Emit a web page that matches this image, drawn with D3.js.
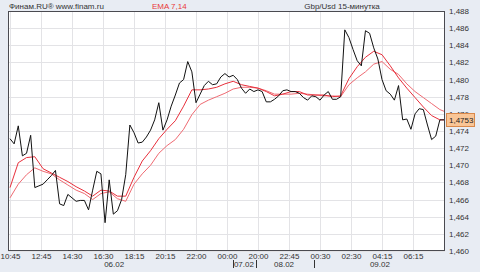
<!DOCTYPE html>
<html>
<head>
<meta charset="utf-8">
<script src="https://cdn.jsdelivr.net/npm/d3@7"></script>
<style>
  html, body { margin: 0; padding: 0; background: #e8ecf3; }
  text { font-family: "Liberation Sans", Arial, sans-serif; }
</style>
</head>
<body>
<div id="chart"></div>
<script>
// 15 min closes, index = bar number
var closes = [
  1.4731, 1.4725, 1.4746, 1.4711, 1.4714, 1.4735, 1.4674, 1.4676, 1.4678, 1.4683,
  1.4688, 1.4694, 1.4655, 1.4653, 1.4666, 1.4662, 1.4658, 1.4659, 1.4659, 1.4648,
  1.4671, 1.4693, 1.4690, 1.4633, 1.4683, 1.4643, 1.4647, 1.4660, 1.4689, 1.4747,
  1.4738, 1.4726, 1.4727, 1.4733, 1.4741, 1.4753, 1.4773, 1.4741, 1.4753, 1.4769,
  1.4782, 1.4796, 1.4800, 1.4821, 1.4809, 1.4773, 1.4783, 1.4793, 1.4798, 1.4794,
  1.4795, 1.4803, 1.4807, 1.4803, 1.4805, 1.4800, 1.4790, 1.4784, 1.4789, 1.4786,
  1.4788, 1.4786, 1.4774, 1.4774, 1.4777, 1.4781, 1.4787, 1.4788, 1.4786, 1.4786,
  1.4784, 1.4779, 1.4776, 1.4781, 1.4780, 1.4776, 1.4782, 1.4786, 1.4777, 1.4777,
  1.4780, 1.4858, 1.4849, 1.4835, 1.4822, 1.4816, 1.4857, 1.4854, 1.4837, 1.4824,
  1.4800, 1.4787, 1.4783, 1.4776, 1.4793, 1.4753, 1.4754, 1.4742, 1.4760, 1.4766,
  1.4765, 1.4747, 1.4730, 1.4734, 1.4753, 1.4753
];

// ema values read every 2nd bar (+ last bar)
var emaIdx = d3.range(0, 105, 2).concat([105]);
var ema7 = [
  1.4674, 1.4703, 1.4709, 1.4710, 1.4696, 1.4691, 1.4686, 1.4681, 1.4675, 1.4670,
  1.4664, 1.4671, 1.4670, 1.4664, 1.4664, 1.4686, 1.4705, 1.4717, 1.4731, 1.4742,
  1.4752, 1.4769, 1.4788, 1.4788, 1.4789, 1.4791, 1.4795, 1.4798, 1.4794, 1.4792,
  1.4790, 1.4786, 1.4781, 1.4783, 1.4786, 1.4786, 1.4782, 1.4782, 1.4782, 1.4780,
  1.4781, 1.4801, 1.4815, 1.4826, 1.4833, 1.4829, 1.4816, 1.4802, 1.4790, 1.4779,
  1.4768, 1.4758, 1.4753, 1.4753
];
var ema14 = [
  1.4662, 1.4678, 1.4689, 1.4697, 1.4693, 1.4690, 1.4683, 1.4677, 1.4671, 1.4667,
  1.4660, 1.4667, 1.4669, 1.4661, 1.4658, 1.4678, 1.4690, 1.4700, 1.4714, 1.4723,
  1.4730, 1.4742, 1.4759, 1.4771, 1.4776, 1.4780, 1.4784, 1.4789, 1.4791, 1.4791,
  1.4790, 1.4787, 1.4783, 1.4783, 1.4783, 1.4784, 1.4783, 1.4782, 1.4781, 1.4781,
  1.4780, 1.4794, 1.4802, 1.4809, 1.4818, 1.4821, 1.4812, 1.4806, 1.4795, 1.4786,
  1.4779, 1.4772, 1.4765, 1.4763
];

var timeLabels = ["10:45", "12:45", "14:30", "16:30", "18:15", "20:15", "22:00",
                  "00:00", "20:00", "22:45", "00:30", "02:30", "04:15", "06:15"];
var timeIdx = [0, 7.5, 15, 22.5, 30, 37.5, 45, 52.5, 60, 67.5, 75, 82.5, 90, 97.5];
var dayLabels = ["06.02", "07.02", "08.02", "09.02"];
var dayIdx = [25.2, 56.6, 66.3, 89.5];
var daySplitIdx = [54, 59.5, 73.6];
var yTicks = [1.460, 1.462, 1.464, 1.466, 1.468, 1.470, 1.472, 1.474,
              1.476, 1.478, 1.480, 1.482, 1.484, 1.486, 1.488];

//set dimensions
var width = 480, height = 272;
var plotL = 8, plotR = 445, plotT = 11, plotB = 251;

var x = d3.scaleLinear().domain([0, 105]).range([10, 444]);
var y = d3.scaleLinear().domain([1.460, 1.488]).range([plotB, plotT]);
var fmt = function(d) { return d.toFixed(3).replace(".", ","); };

var svg = d3.select("#chart").append("svg")
    .attr("width", width)
    .attr("height", height);

svg.append("rect")
    .attr("width", width).attr("height", height)
    .attr("fill", "#e8ecf3");

svg.append("rect")
    .attr("x", plotL).attr("y", plotT)
    .attr("width", plotR - plotL).attr("height", plotB - plotT)
    .attr("fill", "#fff");

// grid
svg.append("g").selectAll("line")
    .data(yTicks)
    .enter().append("line")
    .attr("x1", plotL).attr("x2", plotR)
    .attr("y1", function(d) { return Math.round(y(d)) + 0.5; })
    .attr("y2", function(d) { return Math.round(y(d)) + 0.5; })
    .attr("stroke", "#e3e3e6");

svg.append("g").selectAll("line")
    .data(timeIdx)
    .enter().append("line")
    .attr("x1", function(d) { return Math.round(x(d)) + 0.5; })
    .attr("x2", function(d) { return Math.round(x(d)) + 0.5; })
    .attr("y1", plotT).attr("y2", plotB)
    .attr("stroke", "#e3e3e6");

svg.append("clipPath").attr("id", "clip")
  .append("rect")
    .attr("x", plotL).attr("y", plotT)
    .attr("width", plotR - plotL).attr("height", plotB - plotT);

var lines = svg.append("g").attr("clip-path", "url(#clip)");

var emaLine = d3.line()
    .x(function(d, i) { return x(emaIdx[i]); })
    .y(function(d) { return y(d); });

lines.append("path")
    .attr("d", emaLine(ema14))
    .attr("fill", "none")
    .attr("stroke", "#ef6a72")
    .attr("stroke-width", 1);

lines.append("path")
    .attr("d", emaLine(ema7))
    .attr("fill", "none")
    .attr("stroke", "#e8303c")
    .attr("stroke-width", 1);

var closeLine = d3.line()
    .x(function(d, i) { return x(i); })
    .y(function(d) { return y(d); });

lines.append("path")
    .attr("d", closeLine(closes))
    .attr("fill", "none")
    .attr("stroke", "#111")
    .attr("stroke-width", 1);

// frame
svg.append("rect")
    .attr("x", plotL + 0.5).attr("y", plotT + 0.5)
    .attr("width", plotR - plotL - 1).attr("height", plotB - plotT - 1)
    .attr("fill", "none")
    .attr("stroke", "#4a4a50");

// y axis on the right
var yAxis = svg.append("g")
    .attr("transform", "translate(" + plotR + ",0)")
    .call(d3.axisRight(y).tickValues(yTicks).tickSize(0).tickPadding(4).tickFormat(fmt));
yAxis.select(".domain").remove();
yAxis.selectAll("text")
    .attr("fill", "#333")
    .style("font-size", "8px")
    .style("font-family", "'Liberation Sans', Arial, sans-serif");

// x axis
var xAxis = svg.append("g")
    .attr("transform", "translate(0," + plotB + ")")
    .call(d3.axisBottom(x).tickValues(timeIdx).tickSize(0).tickPadding(2)
      .tickFormat(function(d, i) { return timeLabels[i]; }));
xAxis.select(".domain").remove();
xAxis.selectAll("text")
    .attr("fill", "#333")
    .style("font-size", "8px")
    .style("font-family", "'Liberation Sans', Arial, sans-serif");

svg.append("g").selectAll("text")
    .data(dayLabels)
    .enter().append("text")
    .attr("x", function(d, i) { return x(dayIdx[i]); })
    .attr("y", 267)
    .attr("text-anchor", "middle")
    .attr("font-size", "8px")
    .attr("fill", "#333")
    .text(function(d) { return d; });

svg.append("g").selectAll("line")
    .data(daySplitIdx)
    .enter().append("line")
    .attr("x1", function(d) { return Math.round(x(d)) + 0.5; })
    .attr("x2", function(d) { return Math.round(x(d)) + 0.5; })
    .attr("y1", 260).attr("y2", 268)
    .attr("stroke", "#333");

// header
svg.append("text")
    .attr("x", 9).attr("y", 9)
    .attr("font-size", "8px").attr("fill", "#333")
    .text("Финам.RU®  www.finam.ru");
svg.append("text")
    .attr("x", 152).attr("y", 9)
    .attr("font-size", "8px").attr("fill", "#e83a3a")
    .text("EMA 7,14");
svg.append("text")
    .attr("x", 342).attr("y", 9)
    .attr("text-anchor", "middle")
    .attr("font-size", "8px").attr("fill", "#333")
    .text("Gbp/Usd 15-минутка");

// last price tag
var last = closes[closes.length - 1];
var tag = svg.append("g")
    .attr("transform", "translate(" + (plotR + 1) + "," + Math.round(y(last)) + ")");
tag.append("rect")
    .attr("x", 0.5).attr("y", -6.5)
    .attr("width", 28).attr("height", 13)
    .attr("fill", "#f9c596")
    .attr("stroke", "#d9884a");
tag.append("text")
    .attr("x", 3).attr("y", 3)
    .attr("font-size", "8px").attr("fill", "#222")
    .text(last.toFixed(4).replace(".", ","));
</script>
</body>
</html>
